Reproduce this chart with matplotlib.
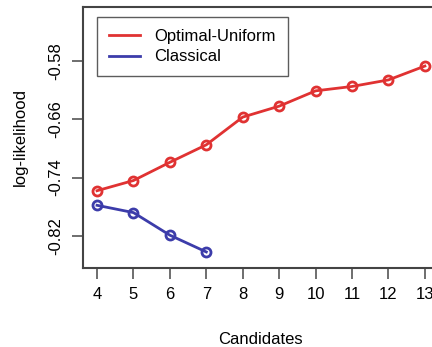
import matplotlib
matplotlib.use("Agg")
import matplotlib.pyplot as plt

plt.rcParams['font.family'] = ['Liberation Sans', 'DejaVu Sans']

# --- datos ---
candidates_opt = [4, 5, 6, 7, 8, 9, 10, 11, 12, 13]
loglik_opt = [-0.758, -0.744, -0.719, -0.695, -0.657, -0.642, -0.621, -0.615, -0.606, -0.587]
candidates_cls = [4, 5, 6, 7]
loglik_cls = [-0.778, -0.788, -0.819, -0.842]

x_ticks = [4, 5, 6, 7, 8, 9, 10, 11, 12, 13]
y_ticks = [-0.58, -0.66, -0.74, -0.82]

red = '#e03232'
blue = '#3c3caa'

fig = plt.figure(figsize=(4.32, 3.47), dpi=100)
# el eje sobresale por la derecha, como en la figura original
ax = fig.add_axes([83 / 432, 1 - 268 / 347, (438 - 83) / 432, (268 - 7) / 347])

ax.plot(candidates_opt, loglik_opt, '-o', color=red, lw=2, ms=6.5,
        mfc='none', mew=2, label='Optimal-Uniform')
ax.plot(candidates_cls, loglik_cls, '-o', color=blue, lw=2, ms=6.5,
        mfc='none', mew=2, label='Classical')

ax.set_xlim(3.615, 13.36)
ax.set_ylim(-0.864, -0.506)
ax.set_xticks(x_ticks)
ax.set_yticks(y_ticks)
ax.set_yticklabels([f'{v:.2f}' for v in y_ticks], rotation=90, va='center')
ax.tick_params(axis='both', labelsize=12, length=8, width=1.2, color='#555555', pad=6)

for s in ax.spines.values():
    s.set_color('#444444')
    s.set_linewidth(1.5)

ax.set_xlabel('Candidates', fontsize=12, labelpad=21)
ax.set_ylabel('log-likelihood', fontsize=12, labelpad=15)

leg = ax.legend(loc='upper left', bbox_to_anchor=((97 - 83) / 355, 1 - 10 / 261),
                fontsize=12, frameon=True, fancybox=False, handlelength=1.9,
                borderpad=0.7, labelspacing=0.35, handletextpad=0.85, borderaxespad=0)
leg.get_frame().set_edgecolor('#333333')
leg.get_frame().set_linewidth(1.0)
for h in leg.get_lines():
    h.set_marker('')

fig.savefig('out.png', dpi=100)
